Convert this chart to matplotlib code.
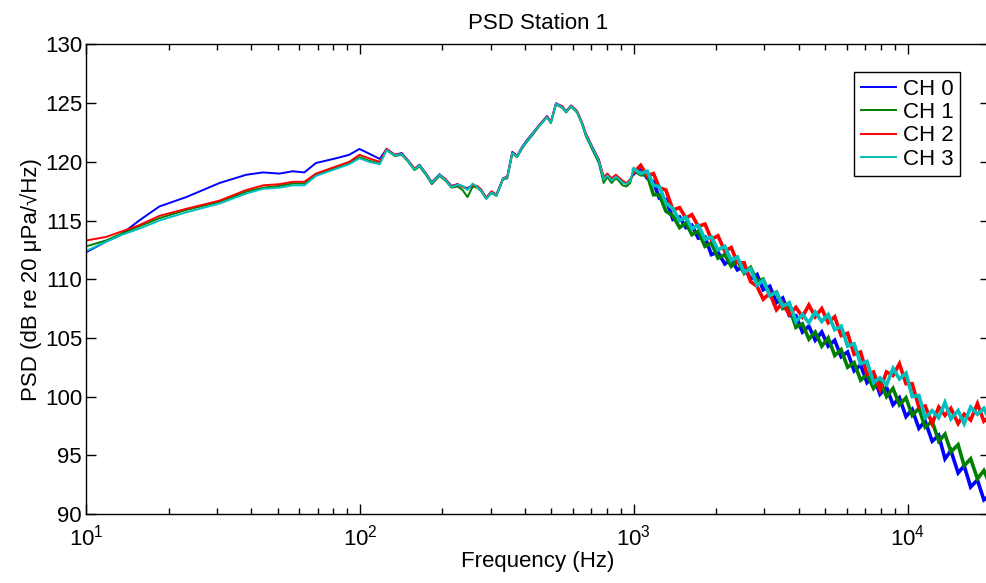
import numpy as np
import matplotlib
matplotlib.use('Agg')
import matplotlib.pyplot as plt
from matplotlib.ticker import LogLocator, NullFormatter, MultipleLocator

# Frequency grid (Hz): low, mid and high parts
freq_low = [10, 11.8, 13.2, 15.6, 18.5, 23.2, 30.7, 38.4, 44.2, 50.8, 56.8,
            62.6, 69.0, 81.6, 91.3, 99.5]
freq_mid = [108, 118, 125, 134, 142, 150, 158, 165, 174, 183, 195, 205, 216,
            227, 237, 247, 258, 268, 277, 289, 302, 315, 333, 345, 360, 375,
            390, 404, 427, 450, 482, 498, 520, 548, 566, 590, 620, 645, 668,
            703, 745, 776, 800, 830, 860, 880, 910, 940, 970]
freq_high = [1000, 1060, 1120, 1180, 1240, 1310, 1390, 1470, 1550, 1630, 1720,
             1820, 1920, 2030, 2150, 2270, 2390, 2530, 2670, 2820, 2970, 3140,
             3320, 3500, 3700, 3910, 4130, 4360, 4600, 4860, 5130, 5420, 5720,
             6040, 6380, 6740, 7110, 7510, 7930, 8380, 8850, 9340, 9870, 10400,
             11000, 11600, 12300, 13000, 13700, 14400, 15300, 16100, 17000,
             18000, 19000, 20000]

# PSD values per channel (dB re 20 uPa/sqrt(Hz))
ch0_low = [112.3, 113.2, 113.7, 115.0, 116.2, 117.0, 118.2, 118.9, 119.1, 119.0,
           119.2, 119.1, 119.9, 120.3, 120.6, 121.1]
ch1_low = [112.8, 113.3, 113.8, 114.5, 115.2, 115.9, 116.6, 117.45, 117.8, 117.95,
           118.15, 118.15, 118.9, 119.5, 119.9, 120.4]
ch2_low = [113.3, 113.6, 114.0, 114.6, 115.4, 116.0, 116.7, 117.6, 118.0, 118.1,
           118.3, 118.3, 119.0, 119.6, 120.0, 120.6]
ch3_low = [112.4, 113.2, 113.7, 114.3, 115.0, 115.7, 116.45, 117.3, 117.7, 117.8,
           118.0, 118.0, 118.8, 119.4, 119.8, 120.3]

ch0_mid = [120.7, 120.25, 121.1, 120.6, 120.75, 120.1, 119.4, 119.75, 119.0, 118.25,
           118.95, 118.5, 117.95, 118.1, 117.9, 117.75, 118.05, 117.9, 117.6, 116.95,
           117.45, 117.2, 118.6, 118.75, 120.85, 120.5, 121.25, 121.75, 122.45, 123.1,
           123.9, 123.4, 125.0, 124.7, 124.3, 124.8, 124.3, 123.4, 122.4, 121.35,
           120.2, 118.65, 118.95, 118.5, 118.85, 118.6, 118.3, 118.15, 118.45]
ch1_mid = [120.1, 119.85, 121.0, 120.5, 120.6, 120.0, 119.3, 119.6, 118.9, 118.1,
           118.8, 118.4, 117.8, 117.9, 117.6, 117.0, 117.9, 117.8, 117.5, 116.85,
           117.35, 117.1, 118.5, 118.6, 120.7, 120.4, 121.1, 121.6, 122.3, 123.0,
           123.8, 123.3, 124.9, 124.6, 124.2, 124.7, 124.2, 123.3, 122.2, 121.1,
           119.9, 118.2, 118.7, 118.2, 118.6, 118.4, 118.0, 117.9, 118.2]
ch2_mid = [120.3, 120.0, 121.1, 120.6, 120.7, 120.1, 119.45, 119.7, 119.05, 118.25,
           118.9, 118.55, 117.9, 118.1, 117.85, 117.7, 118.0, 117.95, 117.65, 116.9,
           117.5, 117.2, 118.6, 118.7, 120.8, 120.5, 121.2, 121.7, 122.4, 123.1,
           123.85, 123.45, 124.95, 124.75, 124.3, 124.8, 124.35, 123.45, 122.45, 121.3,
           120.2, 118.7, 119.0, 118.6, 118.9, 118.7, 118.4, 118.2, 118.5]
ch3_mid = [120.0, 119.8, 121.0, 120.55, 120.65, 120.05, 119.35, 119.7, 119.0, 118.2,
           118.9, 118.45, 117.85, 118.05, 117.95, 117.6, 118.15, 117.85, 117.55, 116.85,
           117.4, 117.15, 118.55, 118.7, 120.75, 120.45, 121.2, 121.65, 122.4, 123.05,
           123.8, 123.35, 124.95, 124.65, 124.25, 124.75, 124.25, 123.35, 122.35, 121.25,
           120.1, 118.5, 118.85, 118.4, 118.75, 118.55, 118.25, 118.1, 118.4]

ch0_high = [119.0, 119.5, 118.6, 118.3, 116.9, 116.8, 115.1, 115.3, 114.4, 114.6,
            113.5, 113.6, 112.1, 112.3, 111.3, 111.7, 110.8, 111.1, 110.0, 110.4,
            109.1, 109.4, 108.0, 108.4, 106.9, 106.9, 105.5, 106.0, 104.8, 105.5,
            104.3, 104.8, 103.4, 103.8, 102.2, 102.7, 101.2, 101.8, 100.2, 100.8,
            99.3, 99.9, 98.3, 98.9, 97.3, 97.9, 96.2, 96.7, 94.7, 95.4,
            93.5, 94.1, 92.3, 92.9, 91.2, 91.6]
ch1_high = [119.3, 118.9, 118.9, 117.2, 117.2, 115.8, 115.4, 114.4, 114.8, 113.8,
            114.1, 112.8, 113.1, 111.8, 112.1, 111.1, 111.6, 110.5, 111.0, 109.8,
            110.0, 108.6, 108.9, 107.5, 107.6, 105.9, 106.2, 104.9, 105.5, 104.3,
            105.0, 103.5, 104.0, 102.5, 102.9, 101.4, 101.9, 100.7, 101.4, 100.0,
            100.7, 99.3, 99.9, 98.4, 99.0, 97.4, 97.9, 96.2, 96.8, 95.3,
            95.9, 94.1, 94.7, 93.0, 93.7, 92.5]
ch2_high = [119.1, 119.7, 118.8, 119.0, 117.8, 117.6, 115.9, 116.1, 115.2, 115.5,
            114.5, 114.7, 113.4, 113.7, 112.4, 112.7, 111.4, 111.4, 109.8, 109.4,
            108.3, 108.8, 107.4, 108.0, 107.0, 107.6, 106.8, 107.8, 106.8, 107.5,
            106.3, 106.8, 105.2, 105.4, 103.6, 103.8, 101.9, 102.1, 100.6, 102.1,
            101.8, 102.8, 101.1, 101.1, 99.1, 99.2, 97.7, 99.1, 98.4, 99.0,
            97.7, 98.5, 98.0, 99.4, 97.9, 98.3]
ch3_high = [119.4, 119.0, 119.2, 118.0, 117.9, 116.5, 116.0, 115.0, 115.3, 114.3,
            114.6, 113.4, 113.6, 112.5, 112.8, 111.6, 111.9, 110.6, 110.9, 109.5,
            109.9, 108.6, 108.9, 107.7, 108.0, 106.4, 107.0, 106.3, 107.2, 106.4,
            107.0, 105.7, 106.0, 104.3, 104.5, 102.8, 103.0, 101.2, 101.6, 101.0,
            102.4, 101.5, 102.0, 100.0, 100.1, 98.2, 98.8, 98.2, 99.5, 98.1,
            98.8, 97.7, 99.1, 98.5, 99.0, 97.9]

labels = ['CH 0', 'CH 1', 'CH 2', 'CH 3']
colors = [(0, 0, 1), (0, 0.5, 0), (1, 0, 0), (0, 0.75, 0.75)]

freq = np.array(freq_low + freq_mid + freq_high)
channels = [ch0_low + ch0_mid + ch0_high,
            ch1_low + ch1_mid + ch1_high,
            ch2_low + ch2_mid + ch2_high,
            ch3_low + ch3_mid + ch3_high]
highs = [ch0_high, ch1_high, ch2_high, ch3_high]

plt.rcParams['font.family'] = ['Liberation Sans', 'DejaVu Sans']
plt.rcParams['mathtext.fontset'] = 'custom'
plt.rcParams['mathtext.rm'] = 'Liberation Sans'
plt.rcParams['mathtext.it'] = 'Liberation Sans:italic'
plt.rcParams['font.size'] = 16

fig = plt.figure(figsize=(9.87, 5.83), dpi=100)
ax = fig.add_axes([0.0874, 0.1184, 0.9156, 0.8053])

for vals, hi, lab, col in zip(channels, highs, labels, colors):
    ax.semilogx(freq, vals, color=col, lw=1.4, label=lab)
    # noisy high-frequency part shows as a thick band in the original
    ax.semilogx(freq_high, hi, color=col, lw=2.6, solid_joinstyle='miter')

ax.set_xlim(10, 20000)
ax.set_ylim(90, 130)
ax.yaxis.set_major_locator(MultipleLocator(5))
ax.xaxis.set_major_locator(LogLocator(base=10))
ax.xaxis.set_minor_locator(LogLocator(base=10, subs=np.arange(2, 10)))
ax.xaxis.set_minor_formatter(NullFormatter())

ax.tick_params(which='both', direction='in', top=True, right=True, labelsize=16)
ax.tick_params(which='major', length=7, width=1)
ax.tick_params(which='minor', length=4, width=1)
ax.tick_params(axis='x', which='major', pad=8)
ax.tick_params(axis='y', which='major', pad=3)
for sp in ax.spines.values():
    sp.set_linewidth(1)
    sp.set_color('black')

ax.set_title('PSD Station 1', fontsize=16, pad=11)
ax.set_xlabel('Frequency (Hz)', fontsize=16, labelpad=0)
ax.set_ylabel('PSD (dB re 20 μPa/√Hz)', fontsize=16, labelpad=2)

leg = ax.legend(loc='upper right', bbox_to_anchor=(0.967, 0.941), borderaxespad=0,
                fontsize=16, fancybox=False, framealpha=1, edgecolor='black',
                handlelength=1.6, handletextpad=0.3, labelspacing=0.1,
                borderpad=0.3)
leg.get_frame().set_linewidth(1)

fig.savefig('out.png', dpi=100)
